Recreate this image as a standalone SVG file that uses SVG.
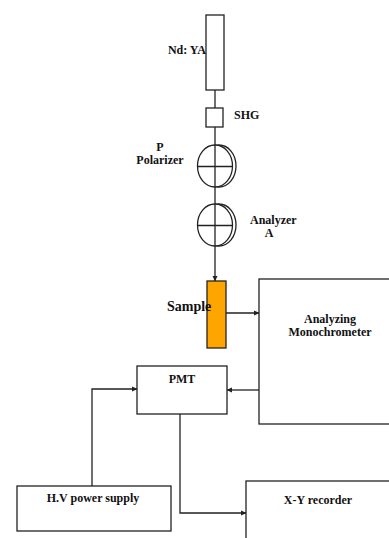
<svg xmlns="http://www.w3.org/2000/svg" width="389" height="538" viewBox="0 0 389 538">
<style>
.b{fill:#fff;stroke:#222;stroke-width:1.3}
.c{fill:none;stroke:#222;stroke-width:1.3}
.t{font-family:"Liberation Serif",serif;font-weight:bold;font-size:12px;fill:#111}
.m{text-anchor:middle}
</style>
<defs>
<marker id="ah" markerWidth="6" markerHeight="6" refX="5" refY="3" orient="auto" markerUnits="userSpaceOnUse">
<path d="M0,0.5 L5.5,3 L0,5.5 Z" fill="#222"/>
</marker>
</defs>
<g id="connectors">
<line class="c" x1="215" y1="90" x2="215" y2="108"/>
<line class="c" x1="215" y1="127" x2="215" y2="281" marker-end="url(#ah)"/>
<line class="c" x1="226" y1="313" x2="259" y2="313" marker-end="url(#ah)"/>
<line class="c" x1="259" y1="390" x2="227" y2="390" marker-end="url(#ah)"/>
<polyline class="c" points="92,486 92,389 137,389" marker-end="url(#ah)"/>
<polyline class="c" points="180,414 180,513 246,513" marker-end="url(#ah)"/>
</g>
<g id="ndyag">
<rect class="b" x="206" y="15" width="18" height="75"/>
<text class="t" x="206" y="54" text-anchor="end">Nd: YA</text>
</g>
<g id="shg">
<rect class="b" x="206" y="108" width="17" height="19"/>
<text class="t" x="234" y="119">SHG</text>
</g>
<g id="polarizer">
<ellipse class="b" cx="219" cy="166" rx="17" ry="21"/>
<ellipse class="b" cx="215" cy="166" rx="17.5" ry="21"/>
<line class="c" x1="197.5" y1="166.5" x2="232.5" y2="166.5"/>
<line class="c" x1="215" y1="145" x2="215" y2="187"/>
<text class="t m" x="160" y="151">P</text>
<text class="t m" x="160" y="164">Polarizer</text>
</g>
<g id="analyzer">
<ellipse class="b" cx="219" cy="225" rx="17" ry="21"/>
<ellipse class="b" cx="215" cy="225" rx="17.5" ry="21"/>
<line class="c" x1="197.5" y1="225.5" x2="232.5" y2="225.5"/>
<line class="c" x1="215" y1="204" x2="215" y2="246"/>
<text class="t" x="250" y="224">Analyzer</text>
<text class="t m" x="269" y="237">A</text>
</g>
<g id="sample">
<rect x="207" y="281" width="19" height="67" fill="#FFA500" stroke="#222" stroke-width="1.3"/>
<text class="t" x="167" y="311" style="font-size:14px">Sample</text>
</g>
<g id="monochrometer">
<rect class="b" x="259" y="279" width="140" height="145"/>
<text class="t m" x="330" y="323">Analyzing</text>
<text class="t m" x="330" y="336">Monochrometer</text>
</g>
<g id="pmt">
<rect class="b" x="137" y="366" width="90" height="48"/>
<text class="t m" x="182" y="383">PMT</text>
</g>
<g id="hv">
<rect class="b" x="17" y="486" width="154" height="45"/>
<text class="t m" x="93" y="502">H.V power supply</text>
</g>
<g id="xy">
<rect class="b" x="246" y="481" width="150" height="70"/>
<text class="t m" x="318" y="504">X-Y recorder</text>
</g>
</svg>
